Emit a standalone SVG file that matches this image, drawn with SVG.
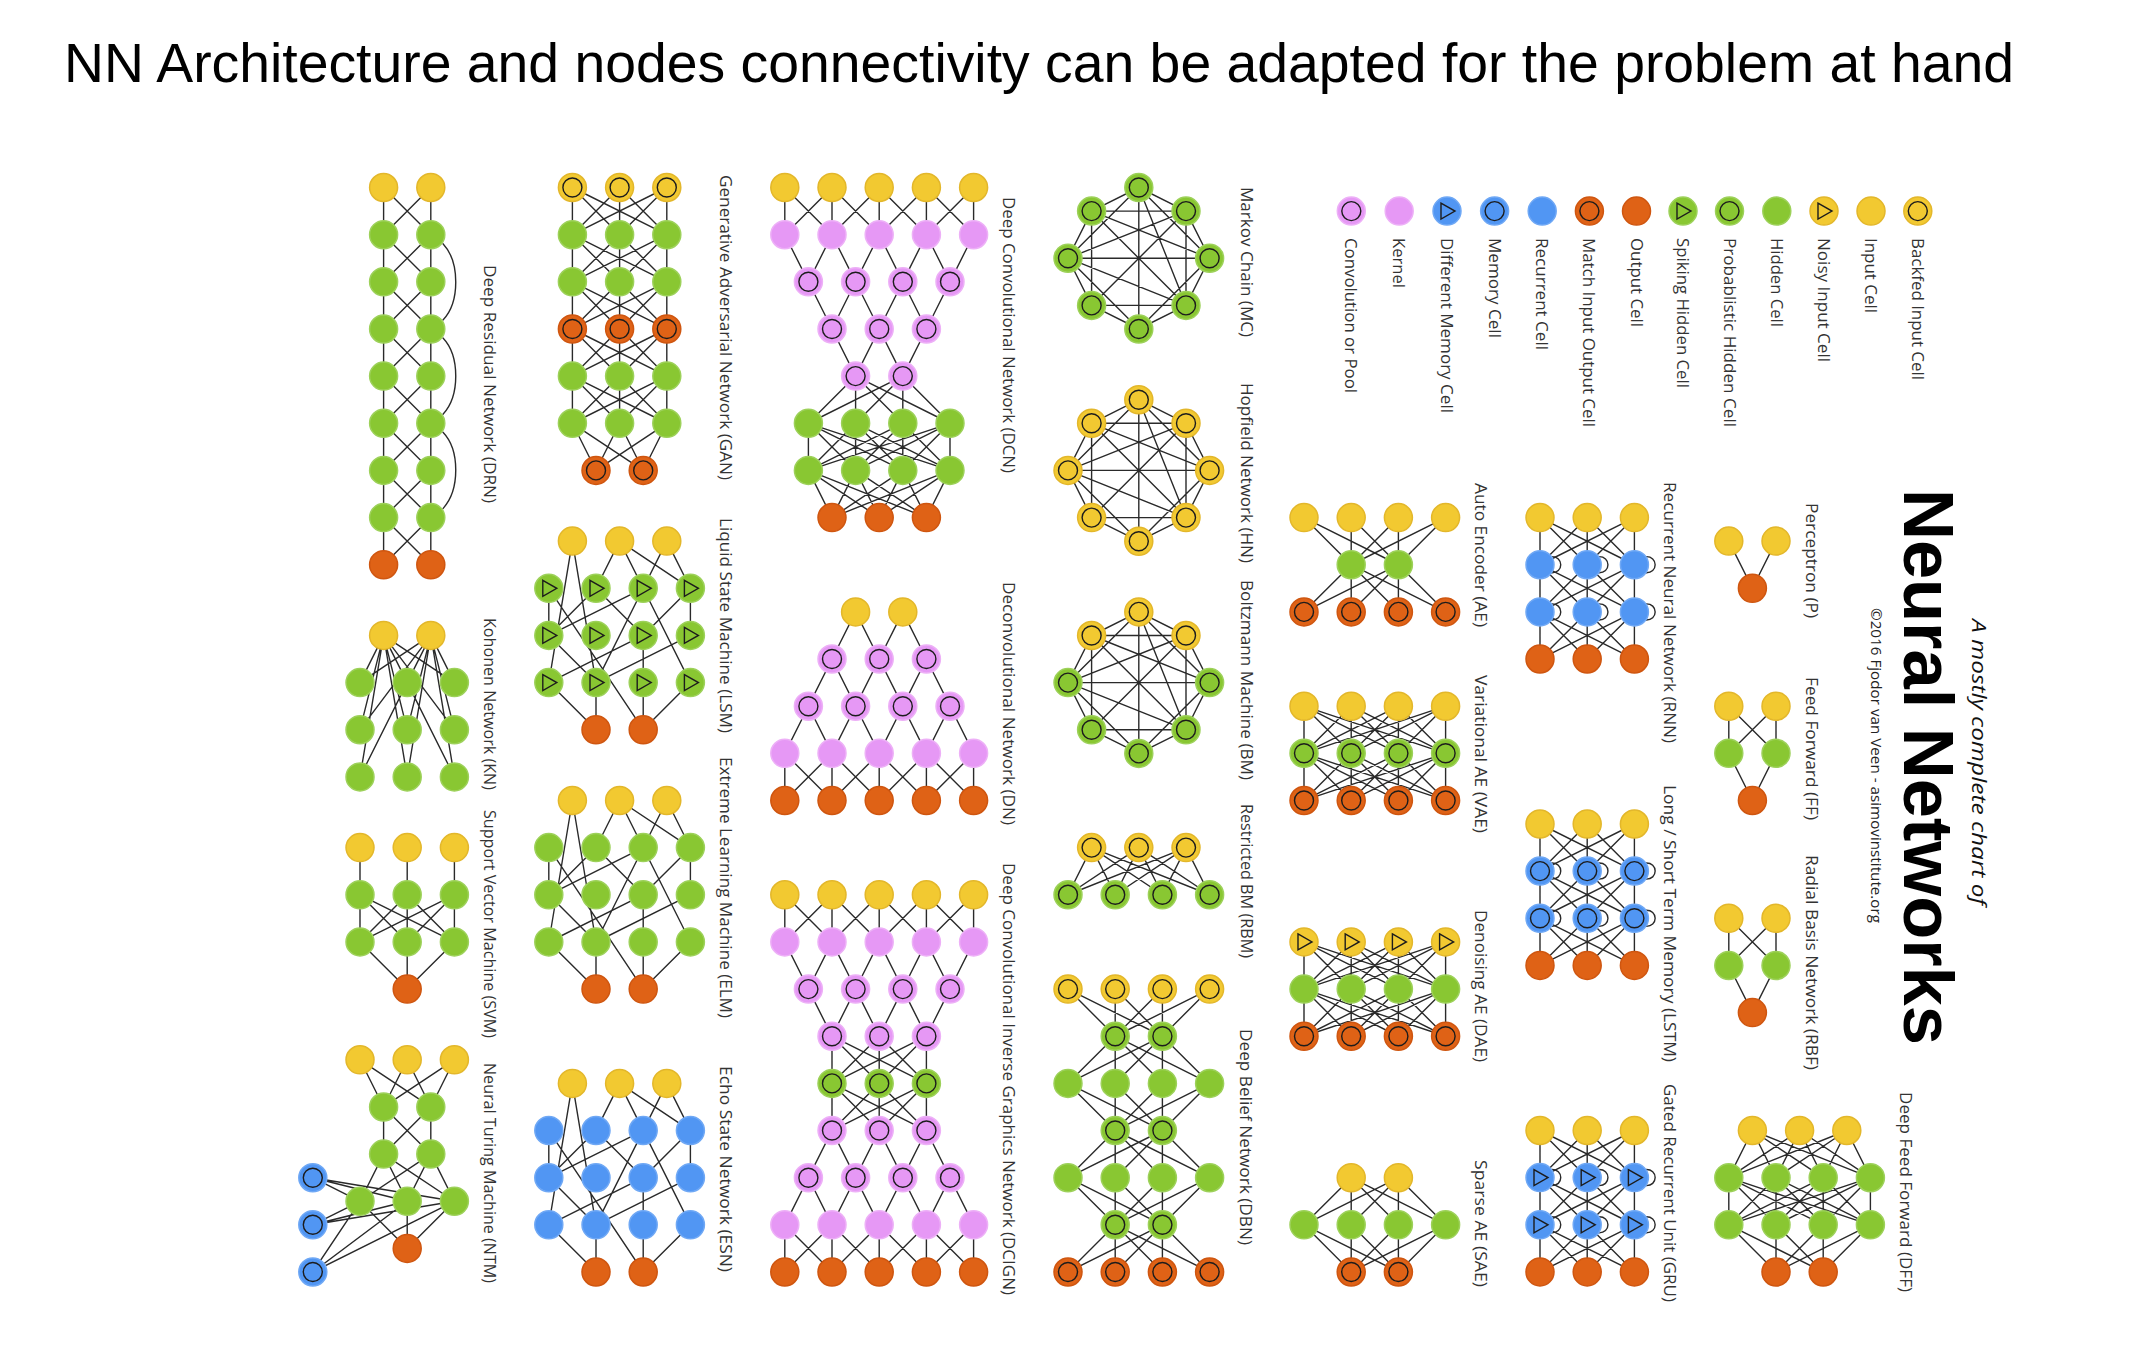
<svg xmlns="http://www.w3.org/2000/svg" xmlns:xlink="http://www.w3.org/1999/xlink" width="2144" height="1355" viewBox="0 0 2144 1355">
<style>
.cy{fill:#F2C931;stroke:#E3B72B;stroke-width:1.5}
.cg{fill:#89C732;stroke:#9DD15A;stroke-width:1.5}
.co{fill:#DF6216;stroke:#CF5610;stroke-width:1.5}
.cb{fill:#5196F3;stroke:#6FA8F5;stroke-width:1.5}
.cp{fill:#E698F5;stroke:#EDB0F7;stroke-width:1.5}
.ic{fill:none;stroke:#1c1c1c;stroke-width:1.4}
.ln{fill:none;stroke:#2a2a2a;stroke-width:1.4;stroke-linecap:round;stroke-linejoin:round}
.lb{font-family:"Open Sans","DejaVu Sans",sans-serif;font-size:16px;fill:#333;dominant-baseline:central}
.title{font-family:"Liberation Sans",Arial,sans-serif;font-size:55px;fill:#000}
</style>
<defs>
<g id="in"><circle class="cy" r="14"/></g>
<g id="bin"><circle class="cy" r="14"/><circle class="ic" r="9.5"/></g>
<g id="nin"><circle class="cy" r="14"/><path class="ic" d="M-6,-8L8,0L-6,8Z"/></g>
<g id="hid"><circle class="cg" r="14"/></g>
<g id="phid"><circle class="cg" r="14"/><circle class="ic" r="9.5"/></g>
<g id="shid"><circle class="cg" r="14"/><path class="ic" d="M-6,-8L8,0L-6,8Z"/></g>
<g id="out"><circle class="co" r="14"/></g>
<g id="mio"><circle class="co" r="14"/><circle class="ic" r="9.5"/></g>
<g id="rec"><circle class="cb" r="14"/></g>
<g id="mem"><circle class="cb" r="14"/><circle class="ic" r="9.5"/></g>
<g id="dmem"><circle class="cb" r="14"/><path class="ic" d="M-6,-8L8,0L-6,8Z"/></g>
<g id="ker"><circle class="cp" r="14"/></g>
<g id="conv"><circle class="cp" r="14"/><circle class="ic" r="9.5"/></g>

<path id="f22" class="ln" d="M0,0V47.15M47.2,0V47.15M0,0L47.2,47.15M47.2,0L0,47.15"/>
<path id="f21" class="ln" d="M0,0L23.6,47.15M47.2,0L23.6,47.15"/>
<path id="f31" class="ln" d="M0,0L47.2,47.15M47.2,0V47.15M94.4,0L47.2,47.15"/>
<path id="f33" class="ln" d="M0,0V47.15M47.2,0V47.15M94.4,0V47.15M0,0L47.2,47.15M0,0L94.4,47.15M47.2,0L0,47.15M47.2,0L94.4,47.15M94.4,0L0,47.15M94.4,0L47.2,47.15"/>
<path id="f44" class="ln" d="M0,0V47.15M47.2,0V47.15M94.4,0V47.15M141.6,0V47.15M0,0L47.2,47.15M0,0L94.4,47.15M0,0L141.6,47.15M47.2,0L0,47.15M47.2,0L94.4,47.15M47.2,0L141.6,47.15M94.4,0L0,47.15M94.4,0L47.2,47.15M94.4,0L141.6,47.15M141.6,0L0,47.15M141.6,0L47.2,47.15M141.6,0L94.4,47.15"/>
<path id="f34" class="ln" d="M23.6,0L0,47.15M23.6,0L47.2,47.15M23.6,0L94.4,47.15M23.6,0L141.6,47.15M70.8,0L0,47.15M70.8,0L47.2,47.15M70.8,0L94.4,47.15M70.8,0L141.6,47.15M118,0L0,47.15M118,0L47.2,47.15M118,0L94.4,47.15M118,0L141.6,47.15"/>
<path id="f43" class="ln" d="M0,0L23.6,47.15M0,0L70.8,47.15M0,0L118,47.15M47.2,0L23.6,47.15M47.2,0L70.8,47.15M47.2,0L118,47.15M94.4,0L23.6,47.15M94.4,0L70.8,47.15M94.4,0L118,47.15M141.6,0L23.6,47.15M141.6,0L70.8,47.15M141.6,0L118,47.15"/>
<path id="f32" class="ln" d="M0,0L23.6,47.15M0,0L70.8,47.15M47.2,0L23.6,47.15M47.2,0L70.8,47.15M94.4,0L23.6,47.15M94.4,0L70.8,47.15"/>
<path id="f23" class="ln" d="M23.6,0L0,47.15M23.6,0L47.2,47.15M23.6,0L94.4,47.15M70.8,0L0,47.15M70.8,0L47.2,47.15M70.8,0L94.4,47.15"/>
<path id="f42" class="ln" d="M0,0L47.2,47.15M0,0L94.4,47.15M47.2,0V47.15M47.2,0L94.4,47.15M94.4,0L47.2,47.15M94.4,0V47.15M141.6,0L47.2,47.15M141.6,0L94.4,47.15"/>
<path id="f24" class="ln" d="M47.2,0L0,47.15M47.2,0V47.15M47.2,0L94.4,47.15M47.2,0L141.6,47.15M94.4,0L0,47.15M94.4,0L47.2,47.15M94.4,0V47.15M94.4,0L141.6,47.15"/>
<path id="k55" class="ln" d="M0,0V47.15M47.2,0V47.15M94.4,0V47.15M141.6,0V47.15M188.8,0V47.15M0,0L47.2,47.15L94.4,0L141.6,47.15L188.8,0M0,47.15L47.2,0L94.4,47.15L141.6,0L188.8,47.15"/>
<path id="c54" class="ln" d="M0,0L23.6,47.15L47.2,0L70.8,47.15L94.4,0L118,47.15L141.6,0L165.2,47.15L188.8,0"/>
<path id="c43" class="ln" d="M0,0L23.6,47.15L47.2,0L70.8,47.15L94.4,0L118,47.15L141.6,0"/>
<path id="c32" class="ln" d="M0,0L23.6,47.15L47.2,0L70.8,47.15L94.4,0"/>
<path id="c23" class="ln" d="M0,47.15L23.6,0L47.2,47.15L70.8,0L94.4,47.15"/>
<path id="c34" class="ln" d="M0,47.15L23.6,0L47.2,47.15L70.8,0L94.4,47.15L118,0L141.6,47.15"/>
<path id="c45" class="ln" d="M0,47.15L23.6,0L47.2,47.15L70.8,0L94.4,47.15L118,0L141.6,47.15L165.2,0L188.8,47.15"/>
<path id="rp" class="ln" d="M572.4,541.1L548.8,682.6M572.4,541.1L596,682.6M619.6,541.1L596,588.3M619.6,541.1L643.2,588.3M619.6,541.1L690.4,588.3M666.8,541.1L643.2,588.3M666.8,541.1L690.4,588.3M548.8,588.3L548.8,635.4M548.8,588.3L643.2,729.7M596,588.3L548.8,635.4M596,588.3L643.2,635.4M643.2,588.3L548.8,635.4M643.2,588.3L596,682.6M643.2,588.3L690.4,682.6M690.4,588.3L643.2,635.4M690.4,588.3L690.4,635.4M548.8,635.4L596,682.6M643.2,635.4L548.8,682.6M643.2,635.4L643.2,682.6M690.4,635.4L596,682.6M548.8,682.6L596,729.7M596,682.6L596,729.7M643.2,682.6L643.2,729.7M690.4,682.6L643.2,729.7"/>
<path id="oct" class="ln" d="M1138.8,187.5L1186,211.1L1209.6,258.2L1186,305.4L1138.8,329L1091.6,305.4L1068,258.2L1091.6,211.1Z M1138.8,187.5L1209.6,258.2L1138.8,329L1068,258.2Z M1186,211.1L1186,305.4L1091.6,305.4L1091.6,211.1Z M1138.8,187.5L1186,305.4L1068,258.2L1186,211.1L1091.6,305.4L1091.6,211.1L1209.6,258.2L1138.8,329Z M1138.8,187.5L1138.8,329M1186,211.1L1091.6,305.4M1209.6,258.2L1068,258.2M1186,305.4L1091.6,211.1"/>
<g id="rnnc">
<use href="#f33" x="1540" y="517.6"/>
<use href="#f33" x="1540" y="564.7"/>
<use href="#f33" x="1540" y="611.9"/>
<path class="ln" d="M1551,556.7C1564,555.7 1564,573.7 1551,572.7M1598.2,556.7C1611.2,555.7 1611.2,573.7 1598.2,572.7M1645.4,556.7C1658.4,555.7 1658.4,573.7 1645.4,572.7M1551,603.9C1564,602.9 1564,620.9 1551,619.9M1598.2,603.9C1611.2,602.9 1611.2,620.9 1598.2,619.9M1645.4,603.9C1658.4,602.9 1658.4,620.9 1645.4,619.9"/>
</g>
</defs>

<rect width="2144" height="1355" fill="#fff"/>
<text class="title" x="64" y="82" textLength="1950" lengthAdjust="spacingAndGlyphs">NN Architecture and nodes connectivity can be adapted for the problem at hand</text>

<g id="connectors">
<g id="c-drn">
<use href="#f22" x="383.6" y="187.5"/><use href="#f22" x="383.6" y="234.7"/><use href="#f22" x="383.6" y="281.8"/><use href="#f22" x="383.6" y="329"/>
<use href="#f22" x="383.6" y="376.1"/><use href="#f22" x="383.6" y="423.3"/><use href="#f22" x="383.6" y="470.4"/><use href="#f22" x="383.6" y="517.6"/>
<path class="ln" d="M443,243.7C460,262 460,302 443,320M443,338C460,356 460,396 443,414.3M443,432.3C460,450 460,490 443,508.6"/>
</g>
<g id="c-gan">
<use href="#f33" x="572.4" y="187.5"/><use href="#f33" x="572.4" y="234.7"/><use href="#f33" x="572.4" y="281.8"/><use href="#f33" x="572.4" y="329"/><use href="#f33" x="572.4" y="376.1"/><use href="#f32" x="572.4" y="423.3"/>
</g>
<g id="c-lsm"><use href="#rp"/></g>
<g id="c-elm"><use href="#rp" y="259.4"/></g>
<g id="c-esn"><use href="#rp" y="542.3"/></g>
<g id="c-kn">
<path class="ln" d="M383.6,635.4L360,682.6M383.6,635.4L407.2,682.6M383.6,635.4L454.4,682.6M383.6,635.4L360,729.7M383.6,635.4L407.2,729.7M383.6,635.4L454.4,729.7M383.6,635.4L360,776.9M383.6,635.4L407.2,776.9M383.6,635.4L454.4,776.9M430.8,635.4L360,682.6M430.8,635.4L407.2,682.6M430.8,635.4L454.4,682.6M430.8,635.4L360,729.7M430.8,635.4L407.2,729.7M430.8,635.4L454.4,729.7M430.8,635.4L360,776.9M430.8,635.4L407.2,776.9M430.8,635.4L454.4,776.9"/>
</g>
<g id="c-svm">
<path class="ln" d="M360,847.6V894.8M407.2,847.6V894.8M454.4,847.6V894.8"/>
<use href="#f33" x="360" y="894.8"/><use href="#f31" x="360" y="941.9"/>
</g>
<g id="c-ntm">
<use href="#f32" x="360" y="1059.8"/><use href="#f22" x="383.6" y="1107"/><use href="#f23" x="360" y="1154.1"/><use href="#f31" x="360" y="1201.3"/>
<path class="ln" d="M312.8,1177.7L360,1201.3M312.8,1177.7L407.2,1201.3M312.8,1177.7L454.4,1201.3M312.8,1224.8L360,1201.3M312.8,1224.8L407.2,1201.3M312.8,1224.8L454.4,1201.3M312.8,1272L360,1201.3M312.8,1272L407.2,1201.3M312.8,1272L454.4,1201.3"/>
</g>
<g id="c-dcn">
<use href="#k55" x="784.8" y="187.5"/><use href="#c54" x="784.8" y="234.7"/><use href="#c43" x="808.4" y="281.8"/><use href="#c32" x="832" y="329"/>
<use href="#f24" x="808.4" y="376.1"/><use href="#f44" x="808.4" y="423.3"/><use href="#f43" x="808.4" y="470.4"/>
</g>
<g id="c-dn">
<use href="#c23" x="832" y="611.9"/><use href="#c34" x="808.4" y="659"/><use href="#c45" x="784.8" y="706.2"/><use href="#k55" x="784.8" y="753.3"/>
</g>
<g id="c-dcign">
<use href="#k55" x="784.8" y="894.8"/><use href="#c54" x="784.8" y="941.9"/><use href="#c43" x="808.4" y="989.1"/><use href="#f33" x="832" y="1036.2"/>
<use href="#f33" x="832" y="1083.4"/><use href="#c34" x="808.4" y="1130.5"/><use href="#c45" x="784.8" y="1177.7"/><use href="#k55" x="784.8" y="1224.8"/>
</g>
<g id="c-mc"><use href="#oct"/></g>
<g id="c-hn"><use href="#oct" y="212.2"/></g>
<g id="c-bm"><use href="#oct" y="424.4"/></g>
<g id="c-rbm"><use href="#f34" x="1068" y="847.6"/></g>
<g id="c-dbn">
<use href="#f42" x="1068" y="989.1"/><use href="#f24" x="1068" y="1036.2"/><use href="#f42" x="1068" y="1083.4"/><use href="#f24" x="1068" y="1130.5"/><use href="#f42" x="1068" y="1177.7"/><use href="#f24" x="1068" y="1224.8"/>
</g>
<g id="c-ae"><use href="#f42" x="1304" y="517.6"/><use href="#f24" x="1304" y="564.7"/></g>
<g id="c-vae"><use href="#f44" x="1304" y="706.2"/><use href="#f44" x="1304" y="753.3"/></g>
<g id="c-dae"><use href="#f44" x="1304" y="941.9"/><use href="#f44" x="1304" y="989.1"/></g>
<g id="c-sae"><use href="#f24" x="1304" y="1177.7"/><use href="#f42" x="1304" y="1224.8"/></g>
<g id="c-rnn"><use href="#rnnc"/></g>
<g id="c-lstm"><use href="#rnnc" y="306.4"/></g>
<g id="c-gru"><use href="#rnnc" y="612.9"/></g>
<g id="c-p"><use href="#f21" x="1728.8" y="541.1"/></g>
<g id="c-ff"><use href="#f22" x="1728.8" y="706.2"/><use href="#f21" x="1728.8" y="753.3"/></g>
<g id="c-rbf"><use href="#f22" x="1728.8" y="918.3"/><use href="#f21" x="1728.8" y="965.5"/></g>
<g id="c-dff"><use href="#f34" x="1728.8" y="1130.5"/><use href="#f44" x="1728.8" y="1177.7"/><use href="#f42" x="1728.8" y="1224.8"/></g>
</g>

<g id="nodes">
<g id="drn">
<use href="#in" x="383.6" y="187.5"/><use href="#in" x="430.8" y="187.5"/>
<use href="#hid" x="383.6" y="234.7"/><use href="#hid" x="430.8" y="234.7"/>
<use href="#hid" x="383.6" y="281.8"/><use href="#hid" x="430.8" y="281.8"/>
<use href="#hid" x="383.6" y="329"/><use href="#hid" x="430.8" y="329"/>
<use href="#hid" x="383.6" y="376.1"/><use href="#hid" x="430.8" y="376.1"/>
<use href="#hid" x="383.6" y="423.3"/><use href="#hid" x="430.8" y="423.3"/>
<use href="#hid" x="383.6" y="470.4"/><use href="#hid" x="430.8" y="470.4"/>
<use href="#hid" x="383.6" y="517.6"/><use href="#hid" x="430.8" y="517.6"/>
<use href="#out" x="383.6" y="564.7"/><use href="#out" x="430.8" y="564.7"/>
<text class="lb" transform="translate(490,265) rotate(90)" textLength="238" lengthAdjust="spacingAndGlyphs">Deep Residual Network (DRN)</text>
</g>
<g id="gan">
<use href="#bin" x="572.4" y="187.5"/><use href="#bin" x="619.6" y="187.5"/><use href="#bin" x="666.8" y="187.5"/>
<use href="#hid" x="572.4" y="234.7"/><use href="#hid" x="619.6" y="234.7"/><use href="#hid" x="666.8" y="234.7"/>
<use href="#hid" x="572.4" y="281.8"/><use href="#hid" x="619.6" y="281.8"/><use href="#hid" x="666.8" y="281.8"/>
<use href="#mio" x="572.4" y="329"/><use href="#mio" x="619.6" y="329"/><use href="#mio" x="666.8" y="329"/>
<use href="#hid" x="572.4" y="376.1"/><use href="#hid" x="619.6" y="376.1"/><use href="#hid" x="666.8" y="376.1"/>
<use href="#hid" x="572.4" y="423.3"/><use href="#hid" x="619.6" y="423.3"/><use href="#hid" x="666.8" y="423.3"/>
<use href="#mio" x="596" y="470.4"/><use href="#mio" x="643.2" y="470.4"/>
<text class="lb" transform="translate(726,175) rotate(90)" textLength="305" lengthAdjust="spacingAndGlyphs">Generative Adversarial Network (GAN)</text>
</g>
<g id="lsm">
<use href="#in" x="572.4" y="541.1"/><use href="#in" x="619.6" y="541.1"/><use href="#in" x="666.8" y="541.1"/>
<use href="#shid" x="548.8" y="588.3"/><use href="#shid" x="596" y="588.3"/><use href="#shid" x="643.2" y="588.3"/><use href="#shid" x="690.4" y="588.3"/>
<use href="#shid" x="548.8" y="635.4"/><use href="#shid" x="596" y="635.4"/><use href="#shid" x="643.2" y="635.4"/><use href="#shid" x="690.4" y="635.4"/>
<use href="#shid" x="548.8" y="682.6"/><use href="#shid" x="596" y="682.6"/><use href="#shid" x="643.2" y="682.6"/><use href="#shid" x="690.4" y="682.6"/>
<use href="#out" x="596" y="729.7"/><use href="#out" x="643.2" y="729.7"/>
<text class="lb" transform="translate(726,518) rotate(90)" textLength="215" lengthAdjust="spacingAndGlyphs">Liquid State Machine (LSM)</text>
</g>
<g id="elm">
<use href="#in" x="572.4" y="800.5"/><use href="#in" x="619.6" y="800.5"/><use href="#in" x="666.8" y="800.5"/>
<use href="#hid" x="548.8" y="847.6"/><use href="#hid" x="596" y="847.6"/><use href="#hid" x="643.2" y="847.6"/><use href="#hid" x="690.4" y="847.6"/>
<use href="#hid" x="548.8" y="894.8"/><use href="#hid" x="596" y="894.8"/><use href="#hid" x="643.2" y="894.8"/><use href="#hid" x="690.4" y="894.8"/>
<use href="#hid" x="548.8" y="941.9"/><use href="#hid" x="596" y="941.9"/><use href="#hid" x="643.2" y="941.9"/><use href="#hid" x="690.4" y="941.9"/>
<use href="#out" x="596" y="989.1"/><use href="#out" x="643.2" y="989.1"/>
<text class="lb" transform="translate(726,757) rotate(90)" textLength="261" lengthAdjust="spacingAndGlyphs">Extreme Learning Machine (ELM)</text>
</g>
<g id="esn">
<use href="#in" x="572.4" y="1083.4"/><use href="#in" x="619.6" y="1083.4"/><use href="#in" x="666.8" y="1083.4"/>
<use href="#rec" x="548.8" y="1130.5"/><use href="#rec" x="596" y="1130.5"/><use href="#rec" x="643.2" y="1130.5"/><use href="#rec" x="690.4" y="1130.5"/>
<use href="#rec" x="548.8" y="1177.7"/><use href="#rec" x="596" y="1177.7"/><use href="#rec" x="643.2" y="1177.7"/><use href="#rec" x="690.4" y="1177.7"/>
<use href="#rec" x="548.8" y="1224.8"/><use href="#rec" x="596" y="1224.8"/><use href="#rec" x="643.2" y="1224.8"/><use href="#rec" x="690.4" y="1224.8"/>
<use href="#out" x="596" y="1272"/><use href="#out" x="643.2" y="1272"/>
<text class="lb" transform="translate(726,1066) rotate(90)" textLength="206" lengthAdjust="spacingAndGlyphs">Echo State Network (ESN)</text>
</g>
<g id="kn">
<use href="#in" x="383.6" y="635.4"/><use href="#in" x="430.8" y="635.4"/>
<use href="#hid" x="360" y="682.6"/><use href="#hid" x="407.2" y="682.6"/><use href="#hid" x="454.4" y="682.6"/>
<use href="#hid" x="360" y="729.7"/><use href="#hid" x="407.2" y="729.7"/><use href="#hid" x="454.4" y="729.7"/>
<use href="#hid" x="360" y="776.9"/><use href="#hid" x="407.2" y="776.9"/><use href="#hid" x="454.4" y="776.9"/>
<text class="lb" transform="translate(490,618) rotate(90)" textLength="172" lengthAdjust="spacingAndGlyphs">Kohonen Network (KN)</text>
</g>
<g id="svm">
<use href="#in" x="360" y="847.6"/><use href="#in" x="407.2" y="847.6"/><use href="#in" x="454.4" y="847.6"/>
<use href="#hid" x="360" y="894.8"/><use href="#hid" x="407.2" y="894.8"/><use href="#hid" x="454.4" y="894.8"/>
<use href="#hid" x="360" y="941.9"/><use href="#hid" x="407.2" y="941.9"/><use href="#hid" x="454.4" y="941.9"/>
<use href="#out" x="407.2" y="989.1"/>
<text class="lb" transform="translate(490,810) rotate(90)" textLength="228" lengthAdjust="spacingAndGlyphs">Support Vector Machine (SVM)</text>
</g>
<g id="ntm">
<use href="#in" x="360" y="1059.8"/><use href="#in" x="407.2" y="1059.8"/><use href="#in" x="454.4" y="1059.8"/>
<use href="#hid" x="383.6" y="1107"/><use href="#hid" x="430.8" y="1107"/>
<use href="#hid" x="383.6" y="1154.1"/><use href="#hid" x="430.8" y="1154.1"/>
<use href="#hid" x="360" y="1201.3"/><use href="#hid" x="407.2" y="1201.3"/><use href="#hid" x="454.4" y="1201.3"/>
<use href="#out" x="407.2" y="1248.4"/>
<use href="#mem" x="312.8" y="1177.7"/><use href="#mem" x="312.8" y="1224.8"/><use href="#mem" x="312.8" y="1272"/>
<text class="lb" transform="translate(490,1063) rotate(90)" textLength="220" lengthAdjust="spacingAndGlyphs">Neural Turing Machine (NTM)</text>
</g>
<g id="dcn">
<use href="#in" x="784.8" y="187.5"/><use href="#in" x="832" y="187.5"/><use href="#in" x="879.2" y="187.5"/><use href="#in" x="926.4" y="187.5"/><use href="#in" x="973.6" y="187.5"/>
<use href="#ker" x="784.8" y="234.7"/><use href="#ker" x="832" y="234.7"/><use href="#ker" x="879.2" y="234.7"/><use href="#ker" x="926.4" y="234.7"/><use href="#ker" x="973.6" y="234.7"/>
<use href="#conv" x="808.4" y="281.8"/><use href="#conv" x="855.6" y="281.8"/><use href="#conv" x="902.8" y="281.8"/><use href="#conv" x="950" y="281.8"/>
<use href="#conv" x="832" y="329"/><use href="#conv" x="879.2" y="329"/><use href="#conv" x="926.4" y="329"/>
<use href="#conv" x="855.6" y="376.1"/><use href="#conv" x="902.8" y="376.1"/>
<use href="#hid" x="808.4" y="423.3"/><use href="#hid" x="855.6" y="423.3"/><use href="#hid" x="902.8" y="423.3"/><use href="#hid" x="950" y="423.3"/>
<use href="#hid" x="808.4" y="470.4"/><use href="#hid" x="855.6" y="470.4"/><use href="#hid" x="902.8" y="470.4"/><use href="#hid" x="950" y="470.4"/>
<use href="#out" x="832" y="517.6"/><use href="#out" x="879.2" y="517.6"/><use href="#out" x="926.4" y="517.6"/>
<text class="lb" transform="translate(1009,197) rotate(90)" textLength="276" lengthAdjust="spacingAndGlyphs">Deep Convolutional Network (DCN)</text>
</g>
<g id="dn">
<use href="#in" x="855.6" y="611.9"/><use href="#in" x="902.8" y="611.9"/>
<use href="#conv" x="832" y="659"/><use href="#conv" x="879.2" y="659"/><use href="#conv" x="926.4" y="659"/>
<use href="#conv" x="808.4" y="706.2"/><use href="#conv" x="855.6" y="706.2"/><use href="#conv" x="902.8" y="706.2"/><use href="#conv" x="950" y="706.2"/>
<use href="#ker" x="784.8" y="753.3"/><use href="#ker" x="832" y="753.3"/><use href="#ker" x="879.2" y="753.3"/><use href="#ker" x="926.4" y="753.3"/><use href="#ker" x="973.6" y="753.3"/>
<use href="#out" x="784.8" y="800.5"/><use href="#out" x="832" y="800.5"/><use href="#out" x="879.2" y="800.5"/><use href="#out" x="926.4" y="800.5"/><use href="#out" x="973.6" y="800.5"/>
<text class="lb" transform="translate(1009,582) rotate(90)" textLength="243" lengthAdjust="spacingAndGlyphs">Deconvolutional Network (DN)</text>
</g>
<g id="dcign">
<use href="#in" x="784.8" y="894.8"/><use href="#in" x="832" y="894.8"/><use href="#in" x="879.2" y="894.8"/><use href="#in" x="926.4" y="894.8"/><use href="#in" x="973.6" y="894.8"/>
<use href="#ker" x="784.8" y="941.9"/><use href="#ker" x="832" y="941.9"/><use href="#ker" x="879.2" y="941.9"/><use href="#ker" x="926.4" y="941.9"/><use href="#ker" x="973.6" y="941.9"/>
<use href="#conv" x="808.4" y="989.1"/><use href="#conv" x="855.6" y="989.1"/><use href="#conv" x="902.8" y="989.1"/><use href="#conv" x="950" y="989.1"/>
<use href="#conv" x="832" y="1036.2"/><use href="#conv" x="879.2" y="1036.2"/><use href="#conv" x="926.4" y="1036.2"/>
<use href="#phid" x="832" y="1083.4"/><use href="#phid" x="879.2" y="1083.4"/><use href="#phid" x="926.4" y="1083.4"/>
<use href="#conv" x="832" y="1130.5"/><use href="#conv" x="879.2" y="1130.5"/><use href="#conv" x="926.4" y="1130.5"/>
<use href="#conv" x="808.4" y="1177.7"/><use href="#conv" x="855.6" y="1177.7"/><use href="#conv" x="902.8" y="1177.7"/><use href="#conv" x="950" y="1177.7"/>
<use href="#ker" x="784.8" y="1224.8"/><use href="#ker" x="832" y="1224.8"/><use href="#ker" x="879.2" y="1224.8"/><use href="#ker" x="926.4" y="1224.8"/><use href="#ker" x="973.6" y="1224.8"/>
<use href="#out" x="784.8" y="1272"/><use href="#out" x="832" y="1272"/><use href="#out" x="879.2" y="1272"/><use href="#out" x="926.4" y="1272"/><use href="#out" x="973.6" y="1272"/>
<text class="lb" transform="translate(1009,863) rotate(90)" textLength="432" lengthAdjust="spacingAndGlyphs">Deep Convolutional Inverse Graphics Network (DCIGN)</text>
</g>
<g id="mc">
<use href="#phid" x="1138.8" y="187.5"/><use href="#phid" x="1186" y="211.1"/><use href="#phid" x="1209.6" y="258.2"/><use href="#phid" x="1186" y="305.4"/>
<use href="#phid" x="1138.8" y="329"/><use href="#phid" x="1091.6" y="305.4"/><use href="#phid" x="1068" y="258.2"/><use href="#phid" x="1091.6" y="211.1"/>
<text class="lb" transform="translate(1247,187) rotate(90)" textLength="150" lengthAdjust="spacingAndGlyphs">Markov Chain (MC)</text>
</g>
<g id="hn">
<use href="#bin" x="1138.8" y="399.7"/><use href="#bin" x="1186" y="423.3"/><use href="#bin" x="1209.6" y="470.4"/><use href="#bin" x="1186" y="517.6"/>
<use href="#bin" x="1138.8" y="541.2"/><use href="#bin" x="1091.6" y="517.6"/><use href="#bin" x="1068" y="470.4"/><use href="#bin" x="1091.6" y="423.3"/>
<text class="lb" transform="translate(1247,383) rotate(90)" textLength="180" lengthAdjust="spacingAndGlyphs">Hopfield Network (HN)</text>
</g>
<g id="bm">
<use href="#bin" x="1138.8" y="611.9"/><use href="#bin" x="1186" y="635.5"/><use href="#phid" x="1209.6" y="682.6"/><use href="#phid" x="1186" y="729.8"/>
<use href="#phid" x="1138.8" y="753.4"/><use href="#phid" x="1091.6" y="729.8"/><use href="#phid" x="1068" y="682.6"/><use href="#bin" x="1091.6" y="635.5"/>
<text class="lb" transform="translate(1247,580) rotate(90)" textLength="200" lengthAdjust="spacingAndGlyphs">Boltzmann Machine (BM)</text>
</g>
<g id="rbm">
<use href="#bin" x="1091.6" y="847.6"/><use href="#bin" x="1138.8" y="847.6"/><use href="#bin" x="1186" y="847.6"/>
<use href="#phid" x="1068" y="894.8"/><use href="#phid" x="1115.2" y="894.8"/><use href="#phid" x="1162.4" y="894.8"/><use href="#phid" x="1209.6" y="894.8"/>
<text class="lb" transform="translate(1247,804) rotate(90)" textLength="154" lengthAdjust="spacingAndGlyphs">Restricted BM (RBM)</text>
</g>
<g id="dbn">
<use href="#bin" x="1068" y="989.1"/><use href="#bin" x="1115.2" y="989.1"/><use href="#bin" x="1162.4" y="989.1"/><use href="#bin" x="1209.6" y="989.1"/>
<use href="#phid" x="1115.2" y="1036.2"/><use href="#phid" x="1162.4" y="1036.2"/>
<use href="#hid" x="1068" y="1083.4"/><use href="#hid" x="1115.2" y="1083.4"/><use href="#hid" x="1162.4" y="1083.4"/><use href="#hid" x="1209.6" y="1083.4"/>
<use href="#phid" x="1115.2" y="1130.5"/><use href="#phid" x="1162.4" y="1130.5"/>
<use href="#hid" x="1068" y="1177.7"/><use href="#hid" x="1115.2" y="1177.7"/><use href="#hid" x="1162.4" y="1177.7"/><use href="#hid" x="1209.6" y="1177.7"/>
<use href="#phid" x="1115.2" y="1224.8"/><use href="#phid" x="1162.4" y="1224.8"/>
<use href="#mio" x="1068" y="1272"/><use href="#mio" x="1115.2" y="1272"/><use href="#mio" x="1162.4" y="1272"/><use href="#mio" x="1209.6" y="1272"/>
<text class="lb" transform="translate(1246,1029) rotate(90)" textLength="216" lengthAdjust="spacingAndGlyphs">Deep Belief Network (DBN)</text>
</g>
<g id="ae">
<use href="#in" x="1304" y="517.6"/><use href="#in" x="1351.2" y="517.6"/><use href="#in" x="1398.4" y="517.6"/><use href="#in" x="1445.6" y="517.6"/>
<use href="#hid" x="1351.2" y="564.7"/><use href="#hid" x="1398.4" y="564.7"/>
<use href="#mio" x="1304" y="611.9"/><use href="#mio" x="1351.2" y="611.9"/><use href="#mio" x="1398.4" y="611.9"/><use href="#mio" x="1445.6" y="611.9"/>
<text class="lb" transform="translate(1481,483) rotate(90)" textLength="144" lengthAdjust="spacingAndGlyphs">Auto Encoder (AE)</text>
</g>
<g id="vae">
<use href="#in" x="1304" y="706.2"/><use href="#in" x="1351.2" y="706.2"/><use href="#in" x="1398.4" y="706.2"/><use href="#in" x="1445.6" y="706.2"/>
<use href="#phid" x="1304" y="753.3"/><use href="#phid" x="1351.2" y="753.3"/><use href="#phid" x="1398.4" y="753.3"/><use href="#phid" x="1445.6" y="753.3"/>
<use href="#mio" x="1304" y="800.5"/><use href="#mio" x="1351.2" y="800.5"/><use href="#mio" x="1398.4" y="800.5"/><use href="#mio" x="1445.6" y="800.5"/>
<text class="lb" transform="translate(1481,675) rotate(90)" textLength="158" lengthAdjust="spacingAndGlyphs">Variational AE (VAE)</text>
</g>
<g id="dae">
<use href="#nin" x="1304" y="941.9"/><use href="#nin" x="1351.2" y="941.9"/><use href="#nin" x="1398.4" y="941.9"/><use href="#nin" x="1445.6" y="941.9"/>
<use href="#hid" x="1304" y="989.1"/><use href="#hid" x="1351.2" y="989.1"/><use href="#hid" x="1398.4" y="989.1"/><use href="#hid" x="1445.6" y="989.1"/>
<use href="#mio" x="1304" y="1036.2"/><use href="#mio" x="1351.2" y="1036.2"/><use href="#mio" x="1398.4" y="1036.2"/><use href="#mio" x="1445.6" y="1036.2"/>
<text class="lb" transform="translate(1481,910) rotate(90)" textLength="152" lengthAdjust="spacingAndGlyphs">Denoising AE (DAE)</text>
</g>
<g id="sae">
<use href="#in" x="1351.2" y="1177.7"/><use href="#in" x="1398.4" y="1177.7"/>
<use href="#hid" x="1304" y="1224.8"/><use href="#hid" x="1351.2" y="1224.8"/><use href="#hid" x="1398.4" y="1224.8"/><use href="#hid" x="1445.6" y="1224.8"/>
<use href="#mio" x="1351.2" y="1272"/><use href="#mio" x="1398.4" y="1272"/>
<text class="lb" transform="translate(1481,1160) rotate(90)" textLength="127" lengthAdjust="spacingAndGlyphs">Sparse AE (SAE)</text>
</g>
<g id="rnn">
<use href="#in" x="1540" y="517.6"/><use href="#in" x="1587.2" y="517.6"/><use href="#in" x="1634.4" y="517.6"/>
<use href="#rec" x="1540" y="564.7"/><use href="#rec" x="1587.2" y="564.7"/><use href="#rec" x="1634.4" y="564.7"/>
<use href="#rec" x="1540" y="611.9"/><use href="#rec" x="1587.2" y="611.9"/><use href="#rec" x="1634.4" y="611.9"/>
<use href="#out" x="1540" y="659"/><use href="#out" x="1587.2" y="659"/><use href="#out" x="1634.4" y="659"/>
<text class="lb" transform="translate(1670,482) rotate(90)" textLength="261" lengthAdjust="spacingAndGlyphs">Recurrent Neural Network (RNN)</text>
</g>
<g id="lstm">
<use href="#in" x="1540" y="824"/><use href="#in" x="1587.2" y="824"/><use href="#in" x="1634.4" y="824"/>
<use href="#mem" x="1540" y="871.1"/><use href="#mem" x="1587.2" y="871.1"/><use href="#mem" x="1634.4" y="871.1"/>
<use href="#mem" x="1540" y="918.3"/><use href="#mem" x="1587.2" y="918.3"/><use href="#mem" x="1634.4" y="918.3"/>
<use href="#out" x="1540" y="965.4"/><use href="#out" x="1587.2" y="965.4"/><use href="#out" x="1634.4" y="965.4"/>
<text class="lb" transform="translate(1670,785) rotate(90)" textLength="277" lengthAdjust="spacingAndGlyphs">Long / Short Term Memory (LSTM)</text>
</g>
<g id="gru">
<use href="#in" x="1540" y="1130.5"/><use href="#in" x="1587.2" y="1130.5"/><use href="#in" x="1634.4" y="1130.5"/>
<use href="#dmem" x="1540" y="1177.6"/><use href="#dmem" x="1587.2" y="1177.6"/><use href="#dmem" x="1634.4" y="1177.6"/>
<use href="#dmem" x="1540" y="1224.8"/><use href="#dmem" x="1587.2" y="1224.8"/><use href="#dmem" x="1634.4" y="1224.8"/>
<use href="#out" x="1540" y="1271.9"/><use href="#out" x="1587.2" y="1271.9"/><use href="#out" x="1634.4" y="1271.9"/>
<text class="lb" transform="translate(1670,1084) rotate(90)" textLength="218" lengthAdjust="spacingAndGlyphs">Gated Recurrent Unit (GRU)</text>
</g>
<g id="p">
<use href="#in" x="1728.8" y="541.1"/><use href="#in" x="1776" y="541.1"/>
<use href="#out" x="1752.4" y="588.3"/>
<text class="lb" transform="translate(1812,503) rotate(90)" textLength="115" lengthAdjust="spacingAndGlyphs">Perceptron (P)</text>
</g>
<g id="ff">
<use href="#in" x="1728.8" y="706.2"/><use href="#in" x="1776" y="706.2"/>
<use href="#hid" x="1728.8" y="753.3"/><use href="#hid" x="1776" y="753.3"/>
<use href="#out" x="1752.4" y="800.5"/>
<text class="lb" transform="translate(1812,677) rotate(90)" textLength="143" lengthAdjust="spacingAndGlyphs">Feed Forward (FF)</text>
</g>
<g id="rbf">
<use href="#in" x="1728.8" y="918.3"/><use href="#in" x="1776" y="918.3"/>
<use href="#hid" x="1728.8" y="965.5"/><use href="#hid" x="1776" y="965.5"/>
<use href="#out" x="1752.4" y="1012.6"/>
<text class="lb" transform="translate(1812,855) rotate(90)" textLength="215" lengthAdjust="spacingAndGlyphs">Radial Basis Network (RBF)</text>
</g>
<g id="dff">
<use href="#in" x="1752.4" y="1130.5"/><use href="#in" x="1799.6" y="1130.5"/><use href="#in" x="1846.8" y="1130.5"/>
<use href="#hid" x="1728.8" y="1177.7"/><use href="#hid" x="1776" y="1177.7"/><use href="#hid" x="1823.2" y="1177.7"/><use href="#hid" x="1870.4" y="1177.7"/>
<use href="#hid" x="1728.8" y="1224.8"/><use href="#hid" x="1776" y="1224.8"/><use href="#hid" x="1823.2" y="1224.8"/><use href="#hid" x="1870.4" y="1224.8"/>
<use href="#out" x="1776" y="1272"/><use href="#out" x="1823.2" y="1272"/>
<text class="lb" transform="translate(1906,1092) rotate(90)" textLength="200" lengthAdjust="spacingAndGlyphs">Deep Feed Forward (DFF)</text>
</g>
<g id="legend">
<use href="#conv" x="1351.3" y="211.1"/><text class="lb" transform="translate(1351.3,238) rotate(90)" textLength="155" lengthAdjust="spacingAndGlyphs">Convolution or Pool</text>
<use href="#ker" x="1399.2" y="211.1"/><text class="lb" transform="translate(1399.2,238) rotate(90)" textLength="50" lengthAdjust="spacingAndGlyphs">Kernel</text>
<use href="#dmem" x="1447" y="211.1"/><text class="lb" transform="translate(1447,238) rotate(90)" textLength="175" lengthAdjust="spacingAndGlyphs">Different Memory Cell</text>
<use href="#mem" x="1494.6" y="211.1"/><text class="lb" transform="translate(1494.6,238) rotate(90)" textLength="100" lengthAdjust="spacingAndGlyphs">Memory Cell</text>
<use href="#rec" x="1542.2" y="211.1"/><text class="lb" transform="translate(1542.2,238) rotate(90)" textLength="112" lengthAdjust="spacingAndGlyphs">Recurrent Cell</text>
<use href="#mio" x="1589.4" y="211.1"/><text class="lb" transform="translate(1589.4,238) rotate(90)" textLength="189" lengthAdjust="spacingAndGlyphs">Match Input Output Cell</text>
<use href="#out" x="1636.5" y="211.1"/><text class="lb" transform="translate(1636.5,238) rotate(90)" textLength="89" lengthAdjust="spacingAndGlyphs">Output Cell</text>
<use href="#shid" x="1683" y="211.1"/><text class="lb" transform="translate(1683,238) rotate(90)" textLength="150" lengthAdjust="spacingAndGlyphs">Spiking Hidden Cell</text>
<use href="#phid" x="1729.5" y="211.1"/><text class="lb" transform="translate(1729.5,238) rotate(90)" textLength="189" lengthAdjust="spacingAndGlyphs">Probablistic Hidden Cell</text>
<use href="#hid" x="1776.8" y="211.1"/><text class="lb" transform="translate(1776.8,238) rotate(90)" textLength="89" lengthAdjust="spacingAndGlyphs">Hidden Cell</text>
<use href="#nin" x="1824" y="211.1"/><text class="lb" transform="translate(1824,238) rotate(90)" textLength="124" lengthAdjust="spacingAndGlyphs">Noisy Input Cell</text>
<use href="#in" x="1871" y="211.1"/><text class="lb" transform="translate(1871,238) rotate(90)" textLength="75" lengthAdjust="spacingAndGlyphs">Input Cell</text>
<use href="#bin" x="1917.8" y="211.1"/><text class="lb" transform="translate(1917.8,238) rotate(90)" textLength="142" lengthAdjust="spacingAndGlyphs">Backfed Input Cell</text>
</g>
<g id="chart-title">
<text transform="translate(1979,619) rotate(90)" font-family="'Open Sans','DejaVu Sans',sans-serif" font-style="italic" font-size="20" fill="#111" dominant-baseline="central" textLength="286" lengthAdjust="spacingAndGlyphs">A mostly complete chart of</text>
<text transform="translate(1904,489) rotate(90)" font-family="'Liberation Sans',Arial,sans-serif" font-weight="bold" font-size="70" fill="#000" textLength="556" lengthAdjust="spacingAndGlyphs">Neural Networks</text>
<text transform="translate(1876,608) rotate(90)" font-family="'Open Sans','DejaVu Sans',sans-serif" font-size="14" fill="#222" dominant-baseline="central" textLength="315" lengthAdjust="spacingAndGlyphs">©2016 Fjodor van Veen - asimovinstitute.org</text>
</g>
</g>
</svg>
